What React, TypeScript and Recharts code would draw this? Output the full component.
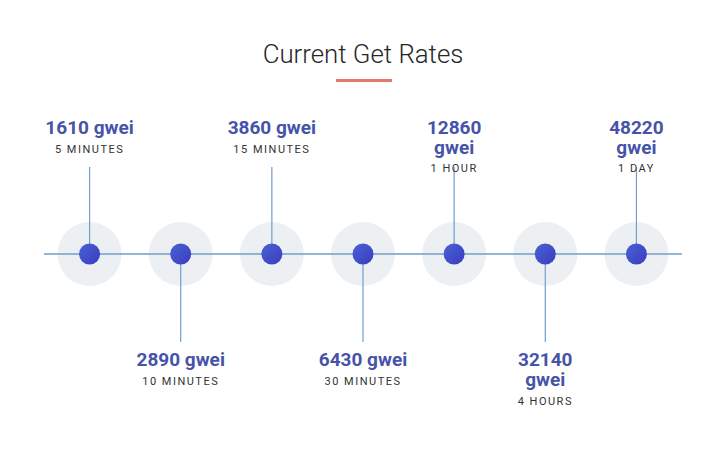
import { ComposedChart, Scatter, XAxis, YAxis } from 'recharts'

// time-to-confirm buckets and the gas price quoted for each
const PERIODS = ['5 MINUTES', '10 MINUTES', '15 MINUTES', '30 MINUTES', '1 HOUR', '4 HOURS', '1 DAY']
const RATES = [1610, 2890, 3860, 6430, 12860, 32140, 48220]
const TRACK_ENDS = [-0.5, 6.5]

const points = RATES.map((rate, i) => ({ x: i, y: 0, rate, period: PERIODS[i] }))
const track = [
  { x: TRACK_ENDS[0], y: 0 },
  ...points,
  { x: TRACK_ENDS[1], y: 0 },
]

const LINE = '#6f9ecb'
const VALUE = '#4653a8'
const FONT = 'Roboto, "Noto Sans", sans-serif'

function Halo(props: any) {
  const { cx, cy } = props
  return <circle cx={cx} cy={cy} r={32} fill="#edf0f3" />
}

function Stop(props: any) {
  const { cx, cy, payload, index } = props
  if (payload.rate === undefined) return <g />
  const up = (index - 1) % 2 === 0
  const text = `${payload.rate} gwei`
  const lines = text.length > 9 ? [String(payload.rate), 'gwei'] : [text]
  const stemEnd = up ? cy - 87 : cy + 88
  const first = up ? cy - 120 : cy + 112
  const step = up ? 19.5 : 20
  const last = first + (lines.length - 1) * step
  return (
    <g>
      <line x1={cx} y1={cy} x2={cx} y2={stemEnd} stroke={LINE} strokeWidth={1.2} />
      <circle cx={cx} cy={cy} r={10.5} fill="url(#dotFill)" />
      {lines.map((l, k) => (
        <text
          key={k}
          x={cx}
          y={first + k * step}
          textAnchor="middle"
          fontFamily={FONT}
          fontWeight={700}
          fontSize={19}
          fill={VALUE}
        >
          {l}
        </text>
      ))}
      <text
        x={cx}
        y={last + 18.5}
        textAnchor="middle"
        fontFamily={FONT}
        fontSize={11}
        fill="#333"
        style={{ letterSpacing: '1.5px' }}
      >
        {payload.period}
      </text>
    </g>
  )
}

export default function App() {
  return (
    <div style={{ position: 'relative', width: 710, height: 452, background: '#fff' }}>
      <style>{'body{margin:0}'}</style>
      <svg width={710} height={452} style={{ position: 'absolute', left: 0, top: 0 }}>
        <defs>
          <linearGradient id="dotFill" x1="0" y1="0" x2="1" y2="1">
            <stop offset="0%" stopColor="#4a62d4" />
            <stop offset="100%" stopColor="#3a3cbf" />
          </linearGradient>
        </defs>
        <text
          x={363}
          y={62.5}
          textAnchor="middle"
          fontFamily={FONT}
          fontWeight={300}
          fontSize={25.8}
          fill="#262626"
        >
          Current Get Rates
        </text>
        <rect x={336} y={79} width={56} height={3} fill="#e8776b" />
      </svg>
      <div style={{ position: 'absolute', left: 0, top: 0 }}>
        <ComposedChart width={710} height={452} margin={{ top: 56, right: 28, left: 44, bottom: 0 }}>
          <XAxis type="number" dataKey="x" domain={TRACK_ENDS} hide />
          <YAxis type="number" dataKey="y" domain={[-1, 1]} hide />
          <Scatter data={points} shape={Halo} isAnimationActive={false} />
          <Scatter
            data={track}
            line={{ stroke: LINE, strokeWidth: 1.5 }}
            lineType="joint"
            shape={Stop}
            isAnimationActive={false}
          />
        </ComposedChart>
      </div>
    </div>
  )
}
